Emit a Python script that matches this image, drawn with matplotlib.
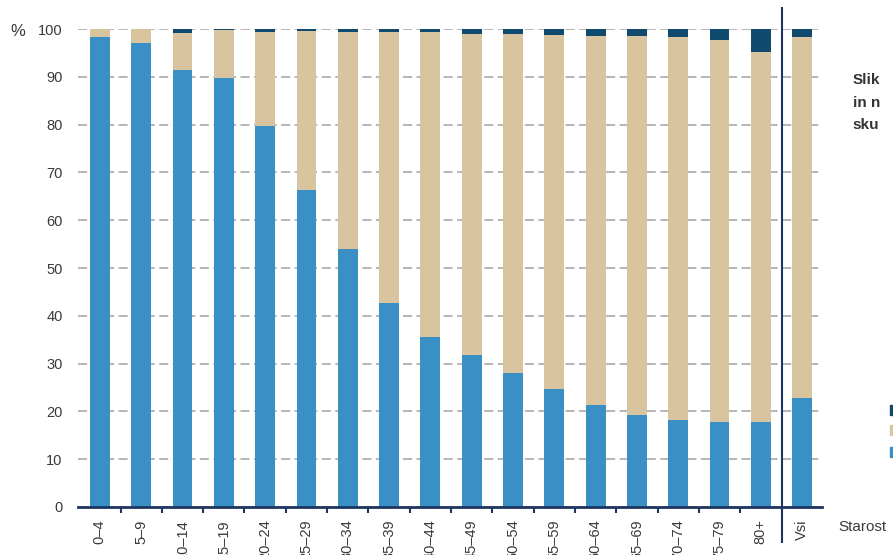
import matplotlib
matplotlib.use('Agg')
import matplotlib.pyplot as plt
from matplotlib import font_manager
from matplotlib.patches import Rectangle


# Age groups and the shares (%).
AGE_GROUPS: list[str] = [
    '0–4', '5–9', '10–14', '15–19', '20–24', '25–29', '30–34', '35–39', '40–44',
    '45–49', '50–54', '55–59', '60–64', '65–69', '70–74', '75–79', '80+', 'Vsi',
]
SHARE_BLUE: list[float] = [
    98.3, 97.0, 91.4, 89.7, 79.7, 66.3, 54.0, 42.7, 35.6,
    31.8, 28.0, 24.7, 21.3, 19.2, 18.2, 17.8, 17.8, 22.8,
]
SHARE_DARK: list[float] = [
    0.0, 0.0, 0.8, 0.2, 0.7, 0.5, 0.6, 0.6, 0.6,
    1.0, 1.1, 1.3, 1.4, 1.4, 1.7, 2.2, 4.8, 1.6,
]
SHARE_BEIGE: list[float] = [100 - b - d for b, d in zip(SHARE_BLUE, SHARE_DARK)]
Y_TICKS: list[int] = list(range(0, 101, 10))

BLUE = '#3a8fc4'
BEIGE = '#d9c4a0'
DARK = '#0f4a6e'
NAVY = '#1d3560'
TEXT = '#3a3a3a'


def pick_font() -> str:
    names = {f.name for f in font_manager.fontManager.ttflist}
    for name in ('Liberation Sans Narrow', 'Liberation Sans', 'DejaVu Sans'):
        if name in names:
            return name
    return 'DejaVu Sans'


def main() -> None:
    font = pick_font()
    plt.rcParams['font.family'] = [font, 'DejaVu Sans']

    fig = plt.figure(figsize=(8.93, 5.55), dpi=100)
    ax = fig.add_axes((0.0873, 0.0865, 0.8332, 0.8612))

    xs = list(range(len(AGE_GROUPS)))
    bottoms2 = [b + e for b, e in zip(SHARE_BLUE, SHARE_BEIGE)]
    ax.bar(xs, SHARE_BLUE, width=0.48, color=BLUE, zorder=2)
    ax.bar(xs, SHARE_BEIGE, width=0.48, bottom=SHARE_BLUE, color=BEIGE, zorder=2)
    ax.bar(xs, SHARE_DARK, width=0.48, bottom=bottoms2, color=DARK, zorder=2)

    ax.set_xlim(-0.53, 17.48)
    ax.set_ylim(0, 100)

    ax.set_yticks(Y_TICKS)
    ax.set_yticklabels([str(t) for t in Y_TICKS], fontsize=10.5, color=TEXT)
    ax.tick_params(axis='y', length=0, pad=11)
    ax.yaxis.grid(True, color='#b0b0b0', linewidth=1.3, linestyle=(0, (5, 2.5)), zorder=1)
    ax.set_axisbelow(True)

    ax.set_xticks(xs)
    ax.set_xticklabels(AGE_GROUPS, rotation=90, fontsize=10.5, color=TEXT, va='top')
    ax.tick_params(axis='x', which='major', length=0, pad=9)
    ax.set_xticks([i + 0.5 for i in range(16)], minor=True)
    ax.tick_params(axis='x', which='minor', length=4, width=1.5, color=NAVY, direction='out')

    for side in ('top', 'right', 'left'):
        ax.spines[side].set_visible(False)
    ax.spines['bottom'].set_color(NAVY)
    ax.spines['bottom'].set_linewidth(2)

    # separator between the age groups and the total
    ax.plot([16.5, 16.5], [-7.3, 104.4], color=NAVY, linewidth=1.5, clip_on=False, zorder=3)

    fig.text(0.02, 0.944, '%', fontsize=12, color=TEXT, ha='center', va='center')
    fig.text(0.939, 0.051, 'Starost', fontsize=11, color=TEXT, ha='left', va='center')
    for y, line in zip((0.856, 0.815, 0.775), ('Slik', 'in n', 'sku')):
        fig.text(0.955, y, line, fontsize=11, color='#333333', fontweight='bold',
                 ha='left', va='center')

    # legend swatches cut by the right edge
    for y, c in zip((0.253, 0.217, 0.177), (DARK, BEIGE, BLUE)):
        fig.add_artist(Rectangle((0.997, y), 0.02, 0.018, transform=fig.transFigure,
                                 color=c, clip_on=False))

    fig.savefig('out.png', dpi=100)


if __name__ == '__main__':
    main()
